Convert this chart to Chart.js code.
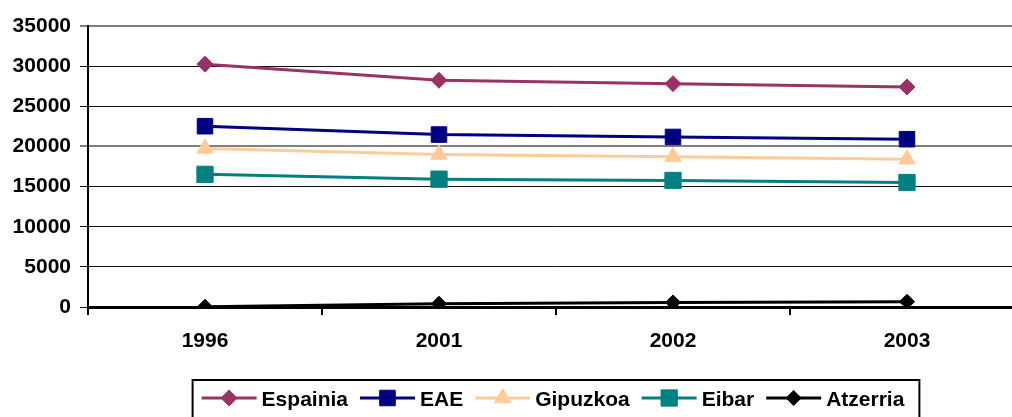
<!DOCTYPE html>
<html>
<head>
<meta charset="utf-8">
<script src="https://cdn.jsdelivr.net/npm/chart.js@4/dist/chart.umd.min.js"></script>
<style>
    html, body { margin: 0; padding: 0; background: #fff; overflow: hidden; }
    #wrap { width: 1040px; height: 417px; }
</style>
</head>
<body>
<div id="wrap"><canvas id="chart" width="1040" height="417"></canvas></div>
<script>
const years = ['1996', '2001', '2002', '2003'];
const espainia = [30250, 28240, 27820, 27400];
const eae = [22520, 21480, 21180, 20900];
const gipuzkoa = [19750, 18990, 18700, 18410];
const eibar = [16520, 15920, 15760, 15510];
const atzerria = [30, 410, 570, 660];
const yTicks = [0, 5000, 10000, 15000, 20000, 25000, 30000, 35000];

const FONT = '"Liberation Sans", Arial, sans-serif';

function series(label, data, color, style, radius) {
    return {
        label: label,
        data: data,
        borderColor: color,
        backgroundColor: color,
        pointBackgroundColor: color,
        pointBorderColor: color,
        borderWidth: 3,
        pointStyle: style,
        pointRadius: radius,
        pointHoverRadius: radius,
        pointBorderWidth: 1,
        tension: 0,
        fill: false
    };
}

// legend drawn as Excel does it: line with marker, boxed
const boxedLegend = {
    id: 'boxedLegend',
    afterDraw(chart) {
        const ctx = chart.ctx;
        const area = chart.chartArea;
        const lineLen = 55, gap = 5, itemGap = 12, padL = 9, padR = 15;
        ctx.save();
        ctx.font = 'bold 21px ' + FONT;
        const items = chart.data.datasets.map(ds => ({ ds, w: ctx.measureText(ds.label).width }));
        let total = 0;
        items.forEach((it, i) => { total += lineLen + gap + it.w + (i < items.length - 1 ? itemGap : 0); });
        const cx = (area.left + area.right) / 2 - 3;
        let x = cx - total / 2;
        const y = 398;

        ctx.lineWidth = 2;
        ctx.strokeStyle = '#000';
        ctx.strokeRect(x - padL, 380, total + padL + padR, 60);

        items.forEach(it => {
            const ds = it.ds;
            ctx.strokeStyle = ds.borderColor;
            ctx.lineWidth = 3;
            ctx.beginPath();
            ctx.moveTo(x, y);
            ctx.lineTo(x + lineLen, y);
            ctx.stroke();
            ctx.fillStyle = ds.pointBackgroundColor;
            ctx.strokeStyle = ds.pointBorderColor;
            ctx.lineWidth = 1;
            Chart.helpers.drawPoint(ctx, { pointStyle: ds.pointStyle, radius: ds.pointRadius, borderWidth: 1 }, x + lineLen / 2, y);
            ctx.fillStyle = '#000';
            ctx.textBaseline = 'middle';
            ctx.textAlign = 'left';
            ctx.fillText(ds.label, x + lineLen + gap, y + 2);
            x += lineLen + gap + it.w + itemGap;
        });
        ctx.restore();
    }
};

new Chart(document.getElementById('chart').getContext('2d'), {
    type: 'line',
    data: {
        labels: years,
        datasets: [
            series('Espainia', espainia, '#993366', 'rectRot', 8),
            series('EAE', eae, '#000080', 'rect', 11),
            series('Gipuzkoa', gipuzkoa, '#FFCC99', 'triangle', 9.5),
            series('Eibar', eibar, '#008080', 'rect', 11.5),
            series('Atzerria', atzerria, '#000000', 'rectRot', 7.5)
        ]
    },
    plugins: [boxedLegend],
    options: {
        responsive: false,
        animation: false,
        layout: { padding: { left: 0, right: 16, top: 26, bottom: 0 } },
        plugins: {
            legend: { display: false },
            tooltip: { enabled: false }
        },
        scales: {
            x: {
                offset: true,
                grid: {
                    offset: true,
                    drawOnChartArea: false,
                    drawTicks: true,
                    tickLength: 8,
                    color: '#000',
                    lineWidth: 2
                },
                border: { display: true, color: '#000', width: 3 },
                ticks: {
                    color: '#000',
                    padding: 14,
                    font: { family: FONT, size: 21, weight: 'bold' }
                },
                afterFit(scale) { scale.height = 110; }
            },
            y: {
                min: 0,
                max: 35000,
                afterBuildTicks(scale) { scale.ticks = yTicks.map(v => ({ value: v })); },
                grid: {
                    tickLength: 8,
                    color: ctx => (ctx.tick && (ctx.tick.value === 35000 || ctx.tick.value === 20000)) ? '#808080' : '#111',
                    lineWidth: ctx => (ctx.tick && (ctx.tick.value === 35000 || ctx.tick.value === 20000)) ? 2 : 1
                },
                border: { display: true, color: '#000', width: 2 },
                ticks: {
                    color: '#000',
                    padding: 9,
                    font: { family: FONT, size: 21, weight: 'bold' },
                    callback: v => String(v)
                },
                afterFit(scale) { scale.width = 88; }
            }
        }
    }
});
</script>
</body>
</html>
